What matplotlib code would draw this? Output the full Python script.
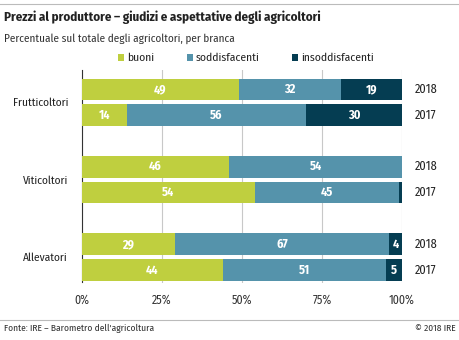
import numpy as np
import matplotlib
matplotlib.use("Agg")
import matplotlib.pyplot as plt
from matplotlib.patches import Rectangle
from matplotlib.lines import Line2D
from matplotlib import font_manager

installed = {f.name for f in font_manager.fontManager.ttflist}
wanted = ["Fira Sans Condensed", "Roboto Condensed", "PT Sans Narrow",
          "Open Sans Condensed", "Barlow Semi Condensed", "Liberation Sans Narrow"]
family = [n for n in wanted if n in installed][:1] + ['DejaVu Sans']
plt.rcParams['font.family'] = family

branches = ["Frutticoltori", "Viticoltori", "Allevatori"]
years = ["2018", "2017"]
buoni = [49, 14, 46, 54, 29, 44]
soddisfacenti = [32, 56, 54, 45, 67, 51]
insoddisfacenti = [19, 30, 0, 1, 4, 5]
series_names = ["buoni", "soddisfacenti", "insoddisfacenti"]
colors = ["#bfcf3f", "#5593ab", "#053d52"]

W, H = 460, 340
fig = plt.figure(figsize=(W / 100, H / 100), dpi=100)
ax = fig.add_axes([82/W, 1 - 283/H, 320/W, 213/H])

ypos = np.array([0, 1, 3, 4, 6, 7])
left = np.zeros(len(ypos))
for vals, col in zip([buoni, soddisfacenti, insoddisfacenti], colors):
    vals = np.array(vals)
    ax.barh(ypos, vals, left=left, height=0.84, color=col, zorder=3)
    for y, l, v in zip(ypos, left, vals):
        if v >= 3:
            ax.text(l + v / 2, y, str(v), ha='center', va='center', color='white',
                    fontsize=8.8, fontweight='bold', zorder=4)
    left += vals

ax.set_xlim(0, 100)
ax.set_ylim(7.5, -0.75)
ax.set_xticks([0, 25, 50, 75, 100])
ax.set_xticklabels(["0%", "25%", "50%", "75%", "100%"])
ax.grid(axis='x', color='#c8c8c8', linewidth=0.8, zorder=0)
ax.tick_params(axis='x', length=0, labelsize=8.6, colors='#333333', pad=8)
ax.set_yticks([0.5, 3.5, 6.5])
ax.set_yticklabels(branches)
ax.tick_params(axis='y', length=0, labelsize=8.2, colors='#222222', pad=10)
for s in ['top', 'right', 'bottom']:
    ax.spines[s].set_visible(False)
ax.spines['left'].set_color('#333333')
ax.spines['left'].set_linewidth(0.8)
ax.spines['left'].set_bounds(7.45, -0.75)

# year labels to the right of each bar
for y, yr in zip(ypos, years * 3):
    ax.text(104, y, yr, ha='left', va='center', fontsize=8.8, color='#222222')

# legend row: small squares followed by the series names
for x0, name, col in zip([118, 187, 292], series_names, colors):
    fig.add_artist(Rectangle((x0 / W, 1 - 61/H), 6.5 / W, 6.5 / H,
                             facecolor=col, edgecolor='none', transform=fig.transFigure))
    fig.text((x0 + 9) / W, 1 - 58/H, name, fontsize=8.3, color='#222222',
             va='center', ha='left')

fig.add_artist(Line2D([0, 1], [1 - 4/H, 1 - 4/H], color='#bbbbbb', linewidth=0.8))
fig.add_artist(Line2D([0, 1], [1 - 320/H, 1 - 320/H], color='#bbbbbb', linewidth=0.8))
fig.text(4/W, 1 - 17/H, "Prezzi al produttore – giudizi e aspettative degli agricoltori",
         fontsize=9.3, fontweight='bold', color='#222222', va='center', ha='left')
fig.text(4/W, 1 - 39/H, "Percentuale sul totale degli agricoltori, per branca",
         fontsize=8, color='#333333', va='center', ha='left')
fig.text(4/W, 1 - 328/H, "Fonte: IRE – Barometro dell'agricoltura",
         fontsize=6.8, color='#333333', va='center', ha='left')
fig.text(456/W, 1 - 328/H, "© 2018 IRE",
         fontsize=6.8, color='#333333', va='center', ha='right')

fig.savefig("out.png", dpi=100)
